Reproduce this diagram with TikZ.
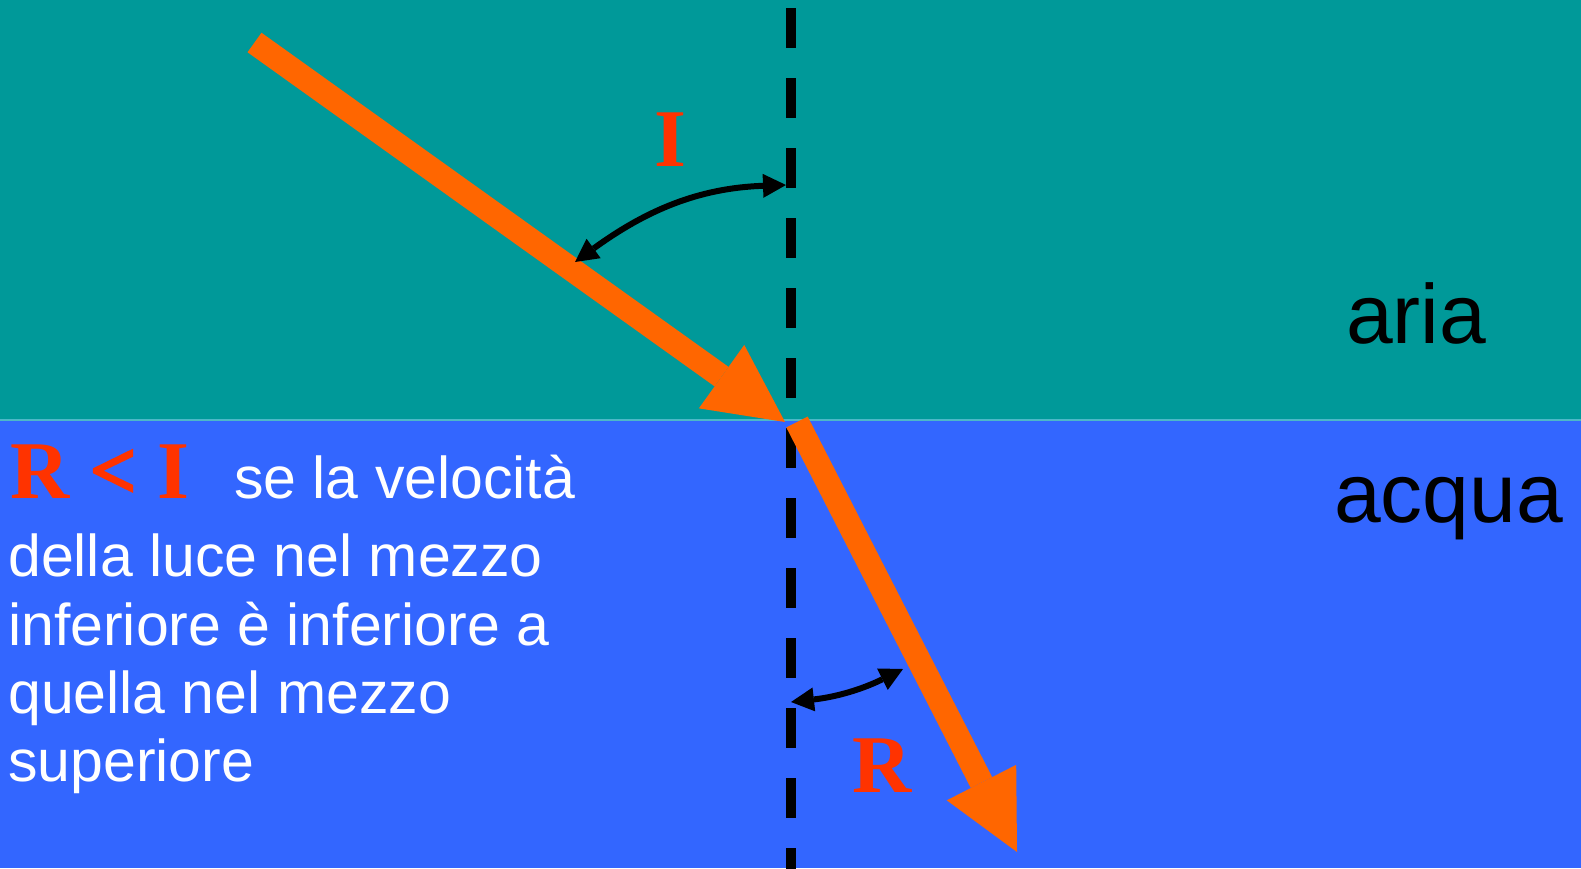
\documentclass[tikz,border=0pt]{standalone}
\usepackage{fontspec}
\setmainfont{Liberation Sans}
\newfontfamily\tnr{Liberation Serif}
\newfontfamily\tnrheavy{Liberation Serif}[FakeBold=2.5]
\usetikzlibrary{arrows.meta}
\definecolor{airc}{HTML}{009999}
\definecolor{waterc}{HTML}{3366FF}
\definecolor{rayc}{HTML}{FF6600}
\definecolor{lblc}{HTML}{FF3300}
\definecolor{edgec}{HTML}{4DB8C8}
\tikzset{
  ray/.style={line width=24pt, draw=rayc, -{Triangle[length=78pt,width=78pt,line width=0pt]}},
  normalline/.style={line width=10pt, draw=black, dash pattern=on 40pt off 30pt},
  anglearr/.style={line width=6pt, draw=black, {Triangle[length=23pt,width=24pt,line width=0pt]}-{Triangle[length=23pt,width=24pt,line width=0pt]}},
  lbl/.style={inner sep=0pt, text=lblc, font=\tnr\bfseries\fontsize{82}{90}\selectfont},
  body/.style={inner sep=0pt, text=white, font=\fontsize{59}{69}\selectfont},
  medium/.style={inner sep=0pt, text=black, font=\fontsize{84}{96}\selectfont},
}
\begin{document}
\begin{tikzpicture}[x=1pt,y=-1pt]
\useasboundingbox (0,0) rectangle (1581,868);
\clip (0,0) rectangle (1581,868);
\fill[airc] (0,0) rectangle (1581,420);
\fill[waterc] (0,420) rectangle (1581,868);
\coordinate (bl) at (0,420);
\coordinate (br) at (1581,420);
\draw[edgec, line width=1.5pt] (bl) -- (br);
% normal
\coordinate (ntop) at (791,8);
\coordinate (nbot) at (791,900);
\draw[normalline] (ntop) -- (nbot);
% rays
\coordinate (s1) at (254.5,42.5);
\coordinate (p) at (785,422);
\draw[ray] (s1) -- (p);
\coordinate (s2) at (797,422);
\coordinate (e2) at (1017,852);
\draw[ray] (s2) -- (e2);
% angle arcs
\coordinate (i1) at (575,262);
\coordinate (i2) at (786,185);
\draw[anglearr] (i1) to[out=36,in=182] (i2);
\coordinate (r1) at (791,702);
\coordinate (r2) at (903,669);
\draw[anglearr] (r1) to[bend right=10] (r2);
% labels
\node[lbl, anchor=base] (li) at (670,166) {I};
\node[lbl, anchor=base] (lr) at (882,792) {R};
\node[lbl, anchor=base west] (rli) at (10,498) {R {\tnrheavy\bfseries <} I};
\node[body, anchor=base west] (t0) at (234,498) {se la velocità};
\node[body, anchor=base west] (t1) at (8,576) {della luce nel mezzo};
\node[body, anchor=base west] (t2) at (8,645) {inferiore è inferiore a};
\node[body, anchor=base west] (t3) at (8,713) {quella nel mezzo};
\node[body, anchor=base west] (t4) at (8,781) {superiore};
\node[medium, anchor=base west] (aria) at (1346,343) {aria};
\node[medium, anchor=base west] (acqua) at (1334,522) {acqua};
\end{tikzpicture}
\end{document}
